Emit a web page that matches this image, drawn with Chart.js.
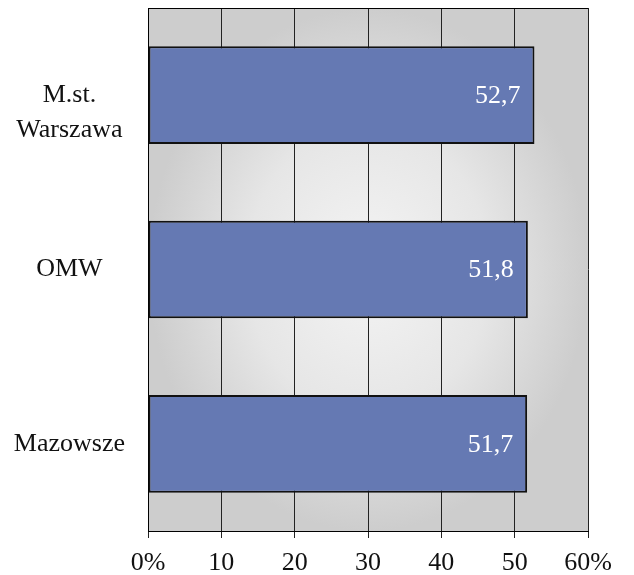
<!DOCTYPE html>
<html>
<head>
<meta charset="utf-8">
<script src="https://cdn.jsdelivr.net/npm/chart.js@4/dist/chart.umd.min.js"></script>
<style>
  html, body { margin: 0; padding: 0; background: #fff; }
  #wrap { width: 634px; height: 575px; }
</style>
</head>
<body>
<div id="wrap"><canvas id="chart" width="634" height="575"></canvas></div>
<script>
// the empty first line pushes the two-line label a bit below the bar centre, as in the original
const regions = [['', 'M.st.', 'Warszawa'], 'OMW', 'Mazowsze'];
const shares = [52.7, 51.8, 51.7];
const xTicks = ['0%', '10', '20', '30', '40', '50', '60%'];

const serif = '"Liberation Serif", "Times New Roman", serif';

// gray edges, lighter middle, like the original fill
const plotBackground = {
    id: 'plotBackground',
    beforeDraw(chart) {
        const { ctx, chartArea: a } = chart;
        const cx = (a.left + a.right) / 2, cy = (a.top + a.bottom) / 2;
        ctx.save();
        ctx.beginPath();
        ctx.rect(a.left, a.top, a.right - a.left, a.bottom - a.top);
        ctx.clip();
        ctx.translate(cx, cy);
        ctx.scale((a.right - a.left) / 2, (a.bottom - a.top) / 2);
        const g = ctx.createRadialGradient(0, 0, 0, 0, 0, 1.0);
        g.addColorStop(0, '#f4f4f4');
        g.addColorStop(0.55, '#e6e6e6');
        g.addColorStop(1, '#cdcdcd');
        ctx.fillStyle = g;
        ctx.fillRect(-1, -1, 2, 2);
        ctx.restore();
    },
    afterDraw(chart) {
        const { ctx, chartArea: a } = chart;
        ctx.save();
        ctx.strokeStyle = '#000';
        ctx.lineWidth = 1;
        ctx.beginPath();
        ctx.moveTo(a.left, a.top + 0.5);
        ctx.lineTo(a.right, a.top + 0.5);
        ctx.stroke();
        ctx.restore();
    }
};

const valueLabels = {
    id: 'valueLabels',
    afterDatasetsDraw(chart) {
        const { ctx } = chart;
        const meta = chart.getDatasetMeta(0);
        ctx.save();
        ctx.fillStyle = '#fff';
        ctx.font = '26px ' + serif;
        ctx.textAlign = 'right';
        ctx.textBaseline = 'middle';
        meta.data.forEach((bar, i) => {
            ctx.fillText(shares[i].toFixed(1).replace('.', ','), bar.x - 14, bar.y + 1);
        });
        ctx.restore();
    }
};

new Chart(document.getElementById('chart'), {
    type: 'bar',
    data: {
        labels: regions,
        datasets: [{
            data: shares,
            backgroundColor: '#6579b3',
            borderColor: '#111',
            borderWidth: 2,
            borderSkipped: false,
            categoryPercentage: 1,
            barPercentage: 0.56
        }]
    },
    options: {
        indexAxis: 'y',
        responsive: false,
        animation: false,
        layout: { padding: { top: 8, right: 46, left: 0, bottom: 0 } },
        plugins: { legend: { display: false }, tooltip: { enabled: false } },
        scales: {
            x: {
                min: 0,
                max: 60,
                afterFit(scale) { scale.height = 44; },
                ticks: {
                    stepSize: 10,
                    color: '#111',
                    padding: 10,
                    maxRotation: 0,
                    font: { family: serif, size: 26 },
                    callback: (v, i) => xTicks[i]
                },
                grid: { color: '#222', lineWidth: 1, tickLength: 7, drawTicks: true },
                border: { color: '#000', width: 1 }
            },
            y: {
                afterFit(scale) {
                    scale.width = 148;
                    scale.paddingTop = 0;
                    scale.paddingBottom = 0;
                },
                ticks: {
                    color: '#111',
                    padding: 15,
                    crossAlign: 'center',
                    font: { family: serif, size: 26, lineHeight: 1.35 }
                },
                grid: { display: false },
                border: { color: '#000', width: 1 }
            }
        }
    },
    plugins: [plotBackground, valueLabels]
});
</script>
</body>
</html>
